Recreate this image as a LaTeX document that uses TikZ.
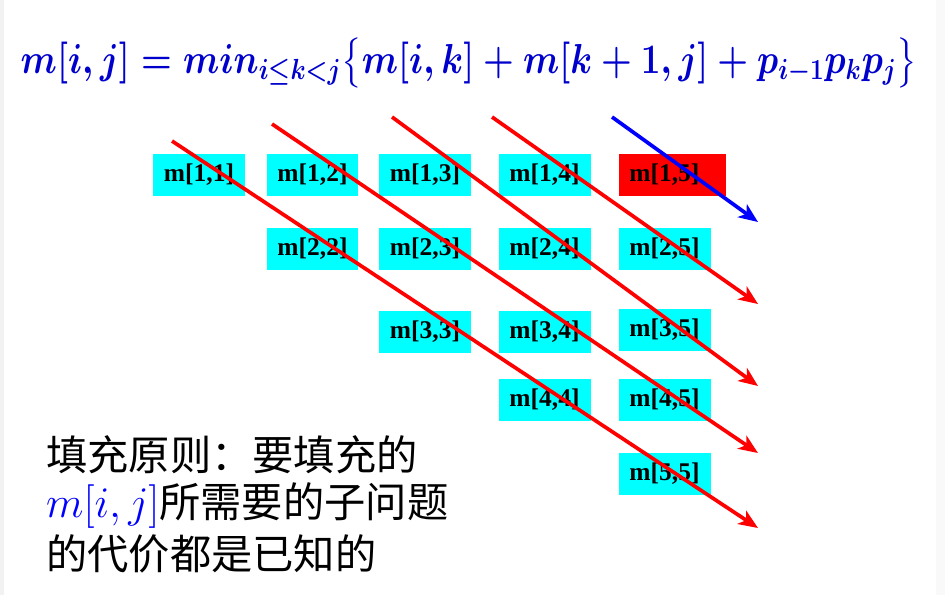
\documentclass[tikz,border=0pt]{standalone}
\usepackage{amsmath}
\usepackage{fontspec}
\usepackage{xcolor}
\usetikzlibrary{arrows.meta}
\setmainfont{Liberation Serif}
\newfontfamily\cjk{Noto Sans CJK SC}

\definecolor{formulablue}{RGB}{0,0,204}
\definecolor{cellcyan}{RGB}{0,255,255}
\tikzset{
  cell/.style={fill=cellcyan, minimum width=1.84cm, minimum height=0.84cm, inner sep=0pt,
               font=\fontsize{14.5}{17}\selectfont\bfseries},
  diag/.style={line width=2.1pt, -{Stealth[length=11pt,width=9pt,inset=3pt]}}
}

\begin{document}
\begin{tikzpicture}[x=0.02cm,y=-0.02cm]
        \useasboundingbox (0,0) rectangle (945,595);
        \fill[gray!10] (0,0) rectangle (4,595);
        \fill[gray!5] (936,0) rectangle (945,595);

        % recurrence
        \node[color=formulablue, font=\fontsize{20}{24}\selectfont\boldmath] (rule) at (469,63)
          {\scalebox{0.965}[1.15]{$m[i,j] = min_{i\le k<j}\bigl\{m[i,k] + m[k+1,j] + p_{i-1}p_kp_j\bigr\}$}};

        % cost table
        \node[cell] (m11) at (199,175) {m[1,1]};
        \node[cell] (m12) at (312.5,175) {m[1,2]};
        \node[cell] (m13) at (425,175) {m[1,3]};
        \node[cell] (m14) at (544.5,175) {m[1,4]};
        \node[cell, fill=red, anchor=west, inner xsep=0.2cm, text width=1.74cm, align=left] (m15) at (619,175) {m[1,5]};

        \node[cell] (m22) at (312.5,249) {m[2,2]};
        \node[cell] (m23) at (425,249) {m[2,3]};
        \node[cell] (m24) at (544.5,249) {m[2,4]};
        \node[cell] (m25) at (664.5,249) {m[2,5]};

        \node[cell] (m33) at (425,332) {m[3,3]};
        \node[cell] (m34) at (544.5,332) {m[3,4]};
        \node[cell] (m35) at (664.5,330) {m[3,5]};

        \node[cell] (m44) at (544.5,400) {m[4,4]};
        \node[cell] (m45) at (664.5,400) {m[4,5]};

        \node[cell] (m55) at (664.5,474) {m[5,5]};

        % diagonals, filled in this order
        \coordinate (d1s) at (172,141);  \coordinate (d1e) at (758,528);
        \coordinate (d2s) at (272,124);  \coordinate (d2e) at (758,453);
        \coordinate (d3s) at (392,117);  \coordinate (d3e) at (758,386);
        \coordinate (d4s) at (492,117);  \coordinate (d4e) at (758,304);
        \coordinate (d5s) at (612,117);  \coordinate (d5e) at (758,222);

        \draw[diag, red] (d1s) -- (d1e);
        \draw[diag, red] (d2s) -- (d2e);
        \draw[diag, red] (d3s) -- (d3e);
        \draw[diag, red] (d4s) -- (d4e);
        \draw[diag, blue] (d5s) -- (d5e);

        % note
        \node[anchor=west, font=\fontsize{23.5}{28}\selectfont\cjk] (note1) at (40,455) {填充原则：要填充的};
        \node[anchor=west, font=\fontsize{23.5}{28}\selectfont\cjk] (note2) at (40,506) {\textcolor{blue}{$m[i,j]$}所需要的子问题};
        \node[anchor=west, font=\fontsize{23.5}{28}\selectfont\cjk] (note3) at (40,554) {的代价都是已知的};
\end{tikzpicture}
\end{document}
